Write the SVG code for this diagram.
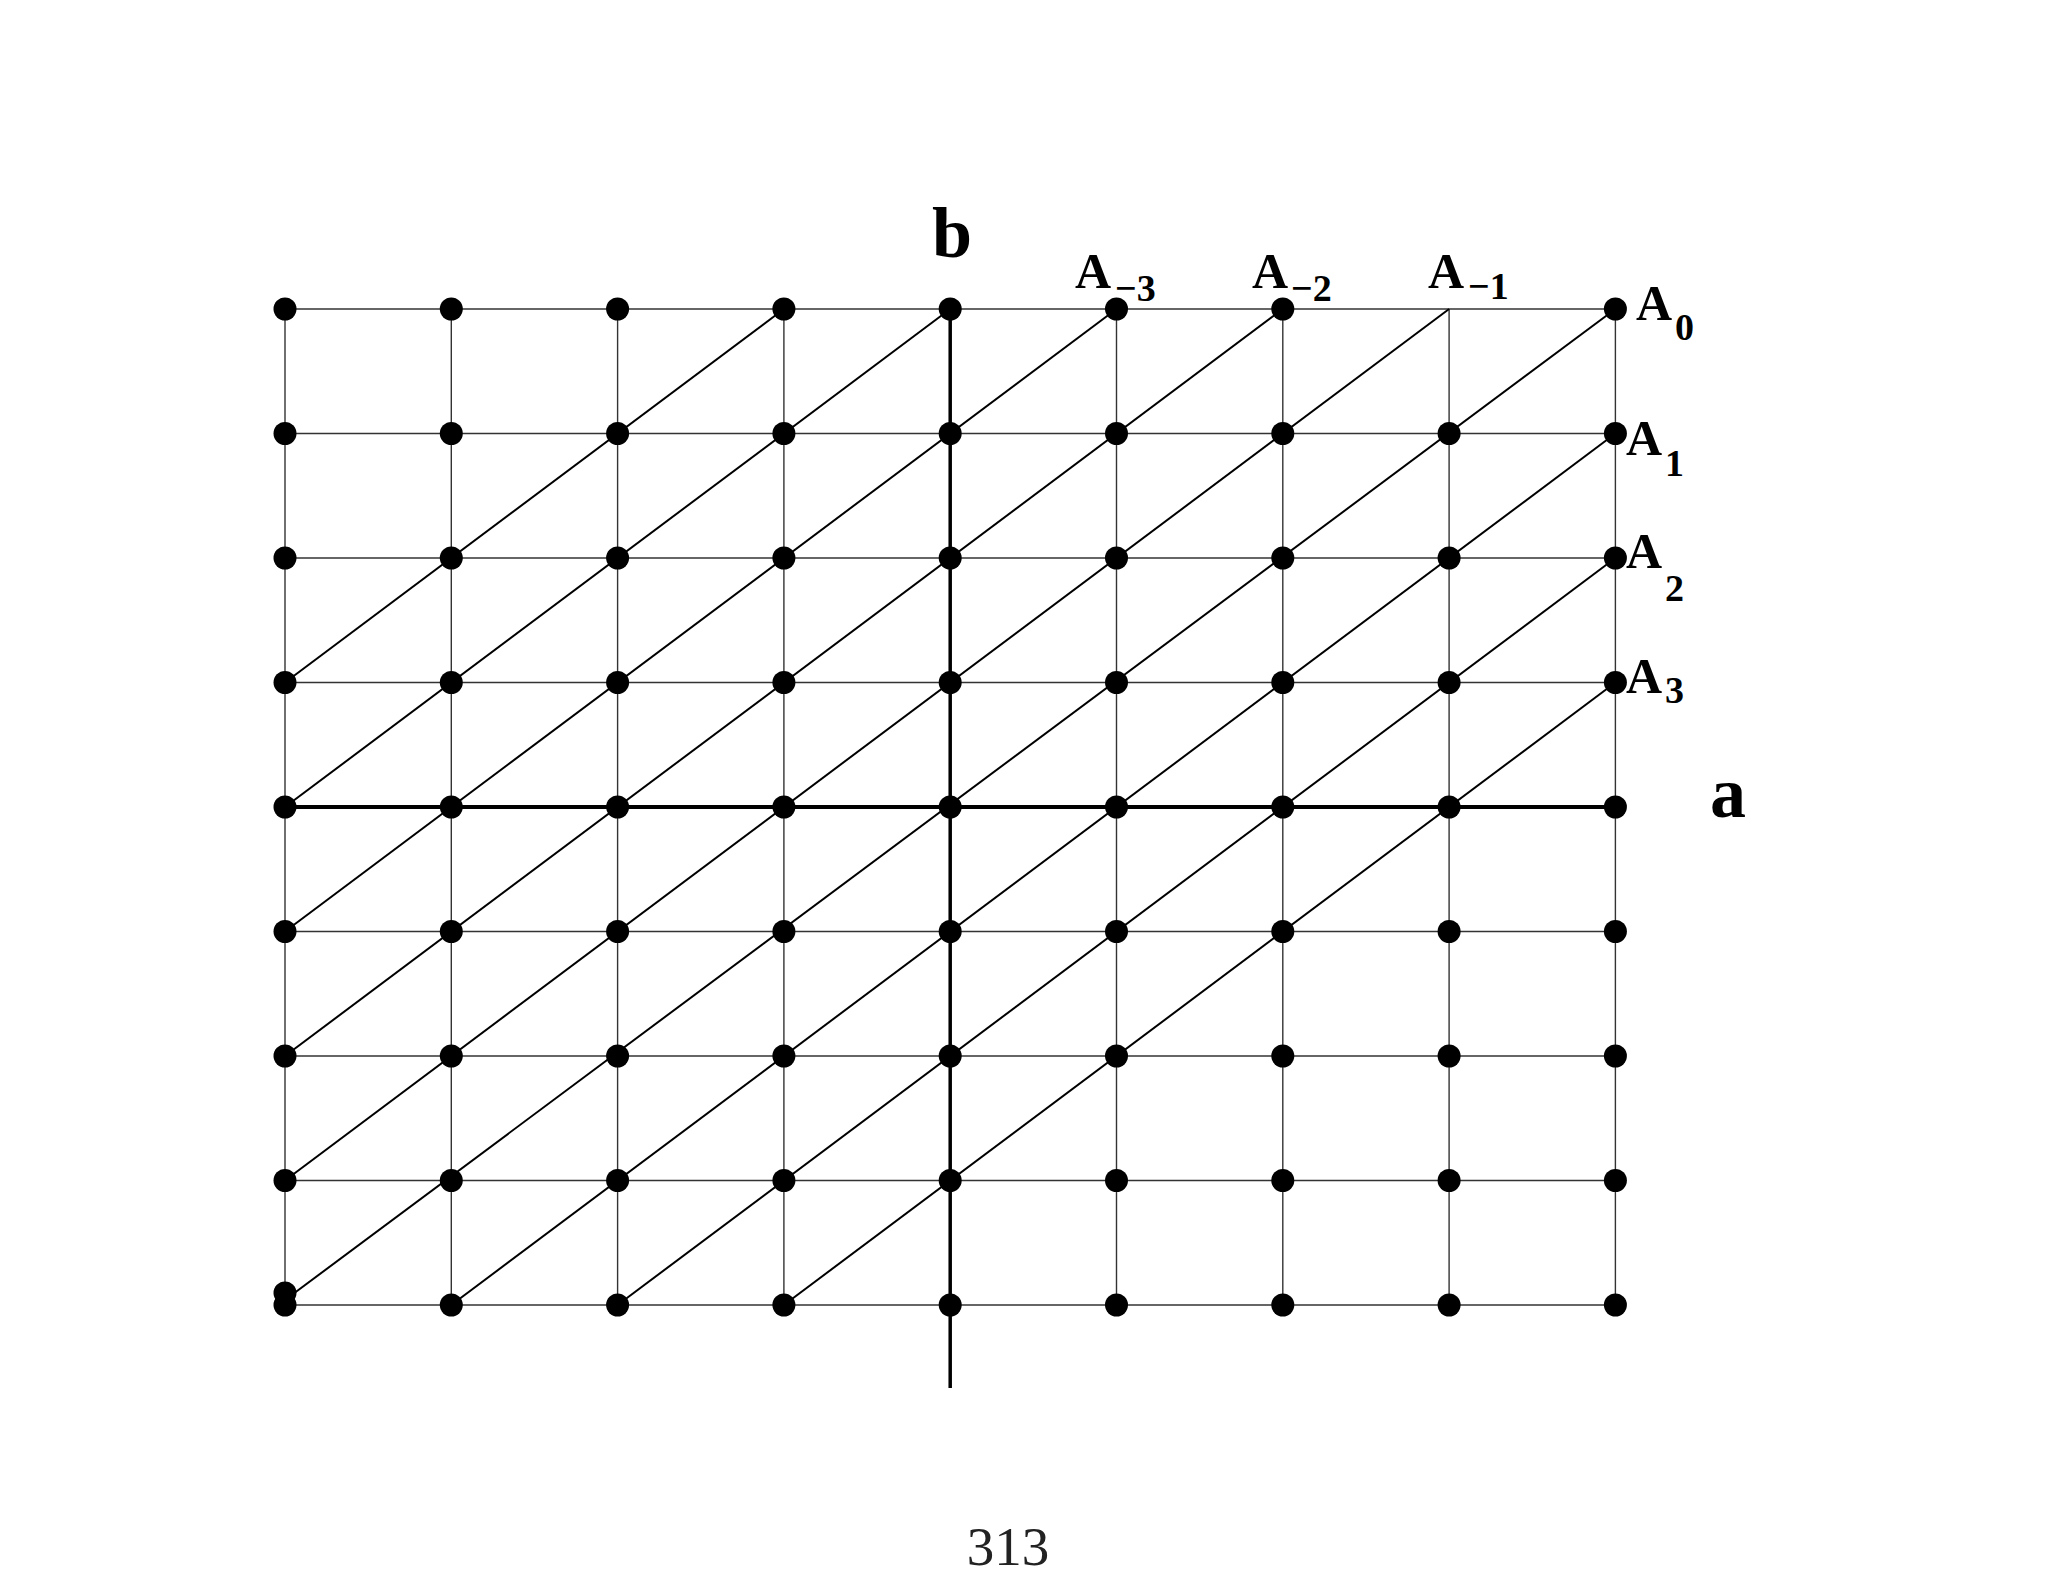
<svg xmlns="http://www.w3.org/2000/svg" width="2048" height="1582" viewBox="0 0 2048 1582">
<style>
.grid{stroke:#333;stroke-width:1.4;fill:none}
.diag{stroke:#000;stroke-width:2;fill:none}
.axis{stroke:#000;stroke-width:4;fill:none}
.dot{fill:#000}
.lbl{font-family:"Liberation Serif","Times New Roman",serif;font-weight:bold;fill:#000}
.big{font-size:72px}
.A{font-size:50px}
.sub{font-size:38px}
.pg{font-family:"Liberation Serif","Times New Roman",serif;font-size:55px;fill:#222}
</style>
<rect width="2048" height="1582" fill="#fff"/>
<g id="connectors">
<g id="grid-h">
<line class="grid" x1="285" y1="309" x2="1615.4" y2="309"/>
<line class="grid" x1="285" y1="433.5" x2="1615.4" y2="433.5"/>
<line class="grid" x1="285" y1="558" x2="1615.4" y2="558"/>
<line class="grid" x1="285" y1="682.5" x2="1615.4" y2="682.5"/>
<line class="grid" x1="285" y1="931.5" x2="1615.4" y2="931.5"/>
<line class="grid" x1="285" y1="1056" x2="1615.4" y2="1056"/>
<line class="grid" x1="285" y1="1180.5" x2="1615.4" y2="1180.5"/>
<line class="grid" x1="285" y1="1305" x2="1615.4" y2="1305"/>
</g>
<g id="grid-v">
<line class="grid" x1="285" y1="309" x2="285" y2="1305"/>
<line class="grid" x1="451.3" y1="309" x2="451.3" y2="1305"/>
<line class="grid" x1="617.6" y1="309" x2="617.6" y2="1305"/>
<line class="grid" x1="783.9" y1="309" x2="783.9" y2="1305"/>
<line class="grid" x1="1116.5" y1="309" x2="1116.5" y2="1305"/>
<line class="grid" x1="1282.8" y1="309" x2="1282.8" y2="1305"/>
<line class="grid" x1="1449.1" y1="309" x2="1449.1" y2="1305"/>
<line class="grid" x1="1615.4" y1="309" x2="1615.4" y2="1305"/>
</g>
<g id="diagonals">
<line class="diag" x1="783.9" y1="309" x2="285" y2="682.5"/>
<line class="diag" x1="950.2" y1="309" x2="285" y2="807"/>
<line class="diag" x1="1116.5" y1="309" x2="285" y2="931.5"/>
<line class="diag" x1="1282.8" y1="309" x2="285" y2="1056"/>
<line class="diag" x1="1449.1" y1="309" x2="285" y2="1180.5"/>
<line class="diag" x1="1615.4" y1="309" x2="289" y2="1297"/>
<line class="diag" x1="1615.4" y1="433.5" x2="451.3" y2="1305"/>
<line class="diag" x1="1615.4" y1="558" x2="617.6" y2="1305"/>
<line class="diag" x1="1615.4" y1="682.5" x2="783.9" y2="1305"/>
</g>
<g id="axes">
<line id="axis-a" class="axis" x1="285" y1="807" x2="1615.4" y2="807"/>
<line id="axis-b" class="axis" style="stroke-width:3.5" x1="950.2" y1="309" x2="950.2" y2="1388"/>
</g>
</g>
<g id="nodes">
<g id="row0">
<circle id="n0-0" class="dot" cx="285" cy="309" r="11.5"/>
<circle id="n0-1" class="dot" cx="451.3" cy="309" r="11.5"/>
<circle id="n0-2" class="dot" cx="617.6" cy="309" r="11.5"/>
<circle id="n0-3" class="dot" cx="783.9" cy="309" r="11.5"/>
<circle id="n0-4" class="dot" cx="950.2" cy="309" r="11.5"/>
<circle id="n0-5" class="dot" cx="1116.5" cy="309" r="11.5"/>
<circle id="n0-6" class="dot" cx="1282.8" cy="309" r="11.5"/>
<circle id="n0-8" class="dot" cx="1615.4" cy="309" r="11.5"/>
</g>
<g id="row1">
<circle id="n1-0" class="dot" cx="285" cy="433.5" r="11.5"/>
<circle id="n1-1" class="dot" cx="451.3" cy="433.5" r="11.5"/>
<circle id="n1-2" class="dot" cx="617.6" cy="433.5" r="11.5"/>
<circle id="n1-3" class="dot" cx="783.9" cy="433.5" r="11.5"/>
<circle id="n1-4" class="dot" cx="950.2" cy="433.5" r="11.5"/>
<circle id="n1-5" class="dot" cx="1116.5" cy="433.5" r="11.5"/>
<circle id="n1-6" class="dot" cx="1282.8" cy="433.5" r="11.5"/>
<circle id="n1-7" class="dot" cx="1449.1" cy="433.5" r="11.5"/>
<circle id="n1-8" class="dot" cx="1615.4" cy="433.5" r="11.5"/>
</g>
<g id="row2">
<circle id="n2-0" class="dot" cx="285" cy="558" r="11.5"/>
<circle id="n2-1" class="dot" cx="451.3" cy="558" r="11.5"/>
<circle id="n2-2" class="dot" cx="617.6" cy="558" r="11.5"/>
<circle id="n2-3" class="dot" cx="783.9" cy="558" r="11.5"/>
<circle id="n2-4" class="dot" cx="950.2" cy="558" r="11.5"/>
<circle id="n2-5" class="dot" cx="1116.5" cy="558" r="11.5"/>
<circle id="n2-6" class="dot" cx="1282.8" cy="558" r="11.5"/>
<circle id="n2-7" class="dot" cx="1449.1" cy="558" r="11.5"/>
<circle id="n2-8" class="dot" cx="1615.4" cy="558" r="11.5"/>
</g>
<g id="row3">
<circle id="n3-0" class="dot" cx="285" cy="682.5" r="11.5"/>
<circle id="n3-1" class="dot" cx="451.3" cy="682.5" r="11.5"/>
<circle id="n3-2" class="dot" cx="617.6" cy="682.5" r="11.5"/>
<circle id="n3-3" class="dot" cx="783.9" cy="682.5" r="11.5"/>
<circle id="n3-4" class="dot" cx="950.2" cy="682.5" r="11.5"/>
<circle id="n3-5" class="dot" cx="1116.5" cy="682.5" r="11.5"/>
<circle id="n3-6" class="dot" cx="1282.8" cy="682.5" r="11.5"/>
<circle id="n3-7" class="dot" cx="1449.1" cy="682.5" r="11.5"/>
<circle id="n3-8" class="dot" cx="1615.4" cy="682.5" r="11.5"/>
</g>
<g id="row4">
<circle id="n4-0" class="dot" cx="285" cy="807" r="11.5"/>
<circle id="n4-1" class="dot" cx="451.3" cy="807" r="11.5"/>
<circle id="n4-2" class="dot" cx="617.6" cy="807" r="11.5"/>
<circle id="n4-3" class="dot" cx="783.9" cy="807" r="11.5"/>
<circle id="n4-4" class="dot" cx="950.2" cy="807" r="11.5"/>
<circle id="n4-5" class="dot" cx="1116.5" cy="807" r="11.5"/>
<circle id="n4-6" class="dot" cx="1282.8" cy="807" r="11.5"/>
<circle id="n4-7" class="dot" cx="1449.1" cy="807" r="11.5"/>
<circle id="n4-8" class="dot" cx="1615.4" cy="807" r="11.5"/>
</g>
<g id="row5">
<circle id="n5-0" class="dot" cx="285" cy="931.5" r="11.5"/>
<circle id="n5-1" class="dot" cx="451.3" cy="931.5" r="11.5"/>
<circle id="n5-2" class="dot" cx="617.6" cy="931.5" r="11.5"/>
<circle id="n5-3" class="dot" cx="783.9" cy="931.5" r="11.5"/>
<circle id="n5-4" class="dot" cx="950.2" cy="931.5" r="11.5"/>
<circle id="n5-5" class="dot" cx="1116.5" cy="931.5" r="11.5"/>
<circle id="n5-6" class="dot" cx="1282.8" cy="931.5" r="11.5"/>
<circle id="n5-7" class="dot" cx="1449.1" cy="931.5" r="11.5"/>
<circle id="n5-8" class="dot" cx="1615.4" cy="931.5" r="11.5"/>
</g>
<g id="row6">
<circle id="n6-0" class="dot" cx="285" cy="1056" r="11.5"/>
<circle id="n6-1" class="dot" cx="451.3" cy="1056" r="11.5"/>
<circle id="n6-2" class="dot" cx="617.6" cy="1056" r="11.5"/>
<circle id="n6-3" class="dot" cx="783.9" cy="1056" r="11.5"/>
<circle id="n6-4" class="dot" cx="950.2" cy="1056" r="11.5"/>
<circle id="n6-5" class="dot" cx="1116.5" cy="1056" r="11.5"/>
<circle id="n6-6" class="dot" cx="1282.8" cy="1056" r="11.5"/>
<circle id="n6-7" class="dot" cx="1449.1" cy="1056" r="11.5"/>
<circle id="n6-8" class="dot" cx="1615.4" cy="1056" r="11.5"/>
</g>
<g id="row7">
<circle id="n7-0" class="dot" cx="285" cy="1180.5" r="11.5"/>
<circle id="n7-1" class="dot" cx="451.3" cy="1180.5" r="11.5"/>
<circle id="n7-2" class="dot" cx="617.6" cy="1180.5" r="11.5"/>
<circle id="n7-3" class="dot" cx="783.9" cy="1180.5" r="11.5"/>
<circle id="n7-4" class="dot" cx="950.2" cy="1180.5" r="11.5"/>
<circle id="n7-5" class="dot" cx="1116.5" cy="1180.5" r="11.5"/>
<circle id="n7-6" class="dot" cx="1282.8" cy="1180.5" r="11.5"/>
<circle id="n7-7" class="dot" cx="1449.1" cy="1180.5" r="11.5"/>
<circle id="n7-8" class="dot" cx="1615.4" cy="1180.5" r="11.5"/>
</g>
<g id="row8">
<circle id="n8-0b" class="dot" cx="285" cy="1293" r="11.5"/>
<circle id="n8-0" class="dot" cx="285" cy="1305" r="11.5"/>
<circle id="n8-1" class="dot" cx="451.3" cy="1305" r="11.5"/>
<circle id="n8-2" class="dot" cx="617.6" cy="1305" r="11.5"/>
<circle id="n8-3" class="dot" cx="783.9" cy="1305" r="11.5"/>
<circle id="n8-4" class="dot" cx="950.2" cy="1305" r="11.5"/>
<circle id="n8-5" class="dot" cx="1116.5" cy="1305" r="11.5"/>
<circle id="n8-6" class="dot" cx="1282.8" cy="1305" r="11.5"/>
<circle id="n8-7" class="dot" cx="1449.1" cy="1305" r="11.5"/>
<circle id="n8-8" class="dot" cx="1615.4" cy="1305" r="11.5"/>
</g>
</g>
<g id="labels">
<text class="lbl big" x="932" y="257">b</text>
<text class="lbl big" x="1710" y="817">a</text>
<text class="lbl A" x="1075" y="288">A</text><text class="lbl sub" x="1115" y="301">−3</text>
<text class="lbl A" x="1252" y="288">A</text><text class="lbl sub" x="1291" y="301">−2</text>
<text class="lbl A" x="1428" y="288">A</text><text class="lbl sub" x="1468" y="299">−1</text>
<text class="lbl A" x="1636" y="320">A</text><text class="lbl sub" x="1675" y="340">0</text>
<text class="lbl A" x="1626" y="455">A</text><text class="lbl sub" x="1665" y="476">1</text>
<text class="lbl A" x="1626" y="568">A</text><text class="lbl sub" x="1665" y="601">2</text>
<text class="lbl A" x="1626" y="693">A</text><text class="lbl sub" x="1665" y="703">3</text>
</g>
<text class="pg" x="1008" y="1565" text-anchor="middle">313</text>
</svg>
